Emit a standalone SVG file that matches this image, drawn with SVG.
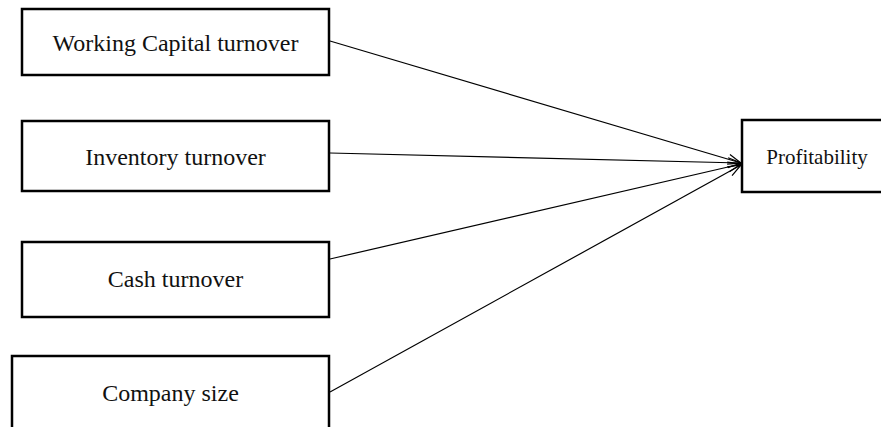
<svg xmlns="http://www.w3.org/2000/svg" width="881" height="427" viewBox="0 0 881 427">
<style>
.box{fill:#fff;stroke:#000;stroke-width:2.5}
.lbl{font-family:"Liberation Serif","Times New Roman",serif;font-size:24px;fill:#111;text-anchor:middle}
.conn{stroke:#000;stroke-width:1.2;fill:none}
</style>
<defs>
<marker id="arr" markerUnits="userSpaceOnUse" markerWidth="16" markerHeight="12" refX="14" refY="6" orient="auto">
<path d="M1,1 L14,6 L1,11" fill="none" stroke="#000" stroke-width="1.2"/>
</marker>
</defs>
<g id="n1"><rect class="box" x="22" y="9" width="307" height="66"/><text class="lbl" x="175.5" y="51">Working Capital turnover</text></g>
<g id="n2"><rect class="box" x="22" y="121" width="307" height="70"/><text class="lbl" x="175.5" y="165">Inventory turnover</text></g>
<g id="n3"><rect class="box" x="22" y="242" width="307" height="75"/><text class="lbl" x="175.5" y="287">Cash turnover</text></g>
<g id="n4"><rect class="box" x="12" y="356" width="317" height="90"/><text class="lbl" x="170.5" y="401">Company size</text></g>
<g id="n5"><rect class="box" x="742" y="120" width="150" height="72"/><text class="lbl" x="817" y="164" style="font-size:21px">Profitability</text></g>
<g id="connectors">
<line class="conn" x1="330" y1="41" x2="741" y2="163" marker-end="url(#arr)"/>
<line class="conn" x1="330" y1="153" x2="741" y2="163" marker-end="url(#arr)"/>
<line class="conn" x1="330" y1="259" x2="741" y2="164" marker-end="url(#arr)"/>
<line class="conn" x1="330" y1="392" x2="741" y2="165" marker-end="url(#arr)"/>
</g>
</svg>
